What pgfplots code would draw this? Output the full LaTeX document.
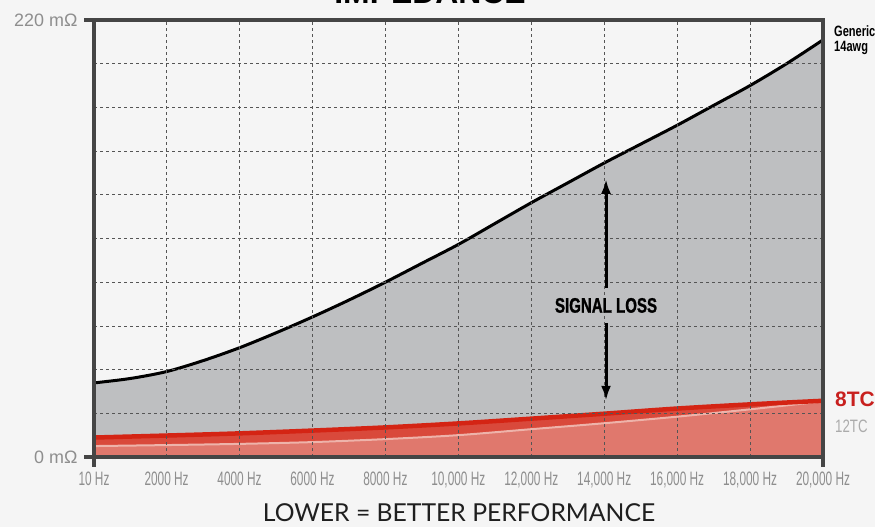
\documentclass[border=0pt]{standalone}
\usepackage{pgfplots}
\pgfplotsset{compat=1.18}
\usetikzlibrary{arrows.meta}
\usepackage{fontspec}
\setmainfont{Liberation Sans}
\newfontfamily\condfont[FakeStretch=0.61]{Liberation Sans}
\newfontfamily\condmid[FakeStretch=0.74]{Liberation Sans}
\newfontfamily\condheavy[FakeStretch=0.72,FakeBold=1.2]{Liberation Sans Bold}
\newfontfamily\titlefont{Lato}
\definecolor{bg}{HTML}{F5F5F5}
\definecolor{axisgray}{HTML}{454545}
\definecolor{fillgray}{HTML}{BEBFC1}
\definecolor{gridgray}{HTML}{555555}
\definecolor{redline}{HTML}{D42414}
\definecolor{redband}{HTML}{D9493B}
\definecolor{salmon}{HTML}{E0786D}
\definecolor{pinkline}{HTML}{EEB3AA}
\definecolor{labelgray}{HTML}{8E8E8E}
\definecolor{lightgray}{HTML}{ABABAB}
\definecolor{redtext}{HTML}{C8201E}
\begin{document}
\begin{tikzpicture}[x=1bp,y=1bp]
\fill[bg] (0,0) rectangle (875,527);
\useasboundingbox (0,0) rectangle (875,527);
\begin{axis}[
  name=ax,
  at={(94bp,70bp)}, anchor=south west,
  scale only axis, width=729bp, height=437bp,
  xmin=10, xmax=20000, ymin=0, ymax=220,
  axis on top,
  axis line style={draw=axisgray, line width=4.5bp},
  xtick={10,2000,4000,6000,8000,10000,12000,14000,16000,18000,20000},
  xticklabels={10 Hz,2000 Hz,4000 Hz,6000 Hz,8000 Hz,{10,000 Hz},{12,000 Hz},{14,000 Hz},{16,000 Hz},{18,000 Hz},{20,000 Hz}},
  ytick={0,22,44,66,88,110,132,154,176,198,220},
  yticklabels={0 mΩ,,,,,,,,,,220 mΩ},
  major tick length=0pt,
  grid=major,
  major grid style={draw=gridgray, line width=0.7bp, dash pattern=on 3bp off 3bp},
  xticklabel style={font=\condfont\fontsize{19.5}{19.5}\selectfont, text=labelgray, yshift=-11bp},
  yticklabel style={font=\fontsize{18}{18}\selectfont, text=labelgray, xshift=-13bp},
  scaled x ticks=false,
]
\addplot[fill=fillgray, draw=none, smooth] coordinates {(10,37.3)(1000,39.5)(2000,43)(3000,48.5)(4000,55)(5000,62.5)(6000,70.5)(7000,79)(8000,88)(9000,97.5)(10000,107)(11000,117.5)(12000,128)(13000,138)(14000,148)(15000,157.5)(16000,167)(17000,177)(18000,187)(19000,198)(20000,210)} \closedcycle;
\addplot[black, line width=3bp, smooth] coordinates {(10,37.3)(1000,39.5)(2000,43)(3000,48.5)(4000,55)(5000,62.5)(6000,70.5)(7000,79)(8000,88)(9000,97.5)(10000,107)(11000,117.5)(12000,128)(13000,138)(14000,148)(15000,157.5)(16000,167)(17000,177)(18000,187)(19000,198)(20000,210)};
\addplot[fill=redband, draw=none, smooth] coordinates {(10,9.8)(2000,10.8)(4000,11.9)(6000,13.3)(8000,14.9)(10000,16.9)(12000,19.3)(14000,21.8)(16000,24.4)(18000,26.5)(20000,28.3)} \closedcycle;
\addplot[fill=salmon, draw=none, smooth] coordinates {(10,5.5)(2000,6)(4000,6.6)(6000,7.5)(8000,9)(10000,11)(12000,14)(14000,17)(16000,20.3)(18000,24)(20000,28)} \closedcycle;
\addplot[pinkline, line width=2bp, smooth] coordinates {(10,5.5)(2000,6)(4000,6.6)(6000,7.5)(8000,9)(10000,11)(12000,14)(14000,17)(16000,20.3)(18000,24)(20000,28)};
\addplot[redline, line width=4.5bp, smooth] coordinates {(10,9.8)(2000,10.8)(4000,11.9)(6000,13.3)(8000,14.9)(10000,16.9)(12000,19.3)(14000,21.8)(16000,24.4)(18000,26.5)(20000,28.3)};
\coordinate (a1) at (axis cs:14050,85);
\coordinate (a2) at (axis cs:14050,140);
\coordinate (a3) at (axis cs:14050,67.5);
\coordinate (a4) at (axis cs:14050,28.3);
\coordinate (sl) at (axis cs:14050,76.3);
\end{axis}
% axis line extensions (tick stubs)
\draw[axisgray, line width=4.5bp] (ax.north west) -- ++(-10,0);
\draw[axisgray, line width=4.5bp] (ax.south west) -- ++(-10,0);
\draw[axisgray, line width=4.5bp] (ax.south west) -- ++(0,-10);
\draw[axisgray, line width=4.5bp] (ax.south east) -- ++(0,-10);
% signal loss annotation
\draw[black, line width=3bp, -{Latex[length=15bp,width=10bp]}] (a1) -- (a2);
\draw[black, line width=3bp, -{Latex[length=15bp,width=10bp]}] (a3) -- (a4);
\node[font=\condheavy\fontsize{21}{21}\selectfont] at (sl) {SIGNAL LOSS};
% right labels
\node[anchor=base west, inner sep=0, font=\condmid\bfseries\fontsize{15}{15}\selectfont] at (834,490) {Generic};
\node[anchor=base west, inner sep=0, font=\condmid\bfseries\fontsize{15}{15}\selectfont] at (834,475) {14awg};
\node[anchor=base west, inner sep=0, text=redtext, font=\bfseries\fontsize{21}{21}\selectfont] at (835,120) {8TC};
\node[anchor=base west, inner sep=0, text=lightgray, font=\condmid\fontsize{18}{18}\selectfont] at (835,94) {12TC};
% titles
\node[anchor=base, inner sep=0, text=black!88, font=\titlefont\fontsize{24.8}{25}\selectfont] at (459,5) {LOWER = BETTER PERFORMANCE};
\node[anchor=base, inner sep=0, font=\bfseries\fontsize{32}{32}\selectfont] at (430,523) {IMPEDANCE};
\end{tikzpicture}
\end{document}
